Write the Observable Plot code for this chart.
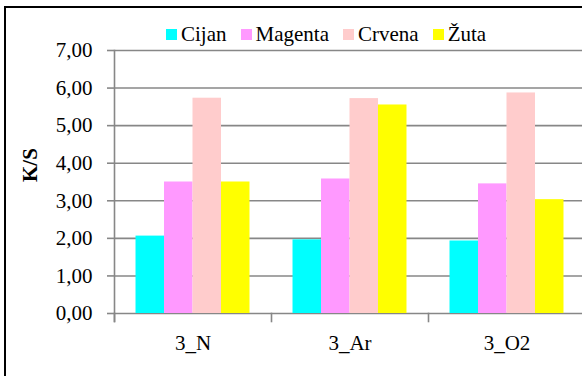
<!DOCTYPE html>
<html>
<head>
<meta charset="utf-8">
<script src="https://cdn.jsdelivr.net/npm/d3@7"></script>
<script src="https://cdn.jsdelivr.net/npm/@observablehq/plot@0.6"></script>
<style>
  html, body { margin: 0; padding: 0; background: white; overflow: hidden; }
  #wrap { position: relative; width: 582px; height: 376px; overflow: hidden; font-family: "Liberation Serif", Tinos, "Nimbus Roman", "DejaVu Serif", serif; }
  #border { position: absolute; left: 4px; top: 6px; width: 640px; height: 440px; border: 2px solid #000; box-sizing: border-box; }
  #chart { position: absolute; left: 0; top: 0; }
  #chart svg, #chart svg text { font-family: "Liberation Serif", Tinos, "Nimbus Roman", "DejaVu Serif", serif !important; }
  #legend { position: absolute; left: 166px; top: 20px; display: flex; align-items: center; font-size: 21px; line-height: 28px; color: #000; white-space: nowrap; }
  #legend .item { display: flex; align-items: center; margin-right: 14px; }
  #legend .sw { width: 11px; height: 11px; margin-right: 4px; }
</style>
</head>
<body>
<div id="wrap">
  <div id="border"></div>
  <div id="chart"></div>
  <div id="legend"></div>
</div>
<script>
const categories = ["3_N", "3_Ar", "3_O2"];
const series = ["Cijan", "Magenta", "Crvena", "Žuta"];
const colors = ["#00FFFF", "#FF99FF", "#FFCCCC", "#FFFF00"];
const cijan   = [2.06, 1.96, 1.93];
const magenta = [3.50, 3.58, 3.45];
const crvena  = [5.73, 5.72, 5.87];
const zuta    = [3.50, 5.55, 3.03];
const yTicks = [0, 1, 2, 3, 4, 5, 6, 7];

const valuesBySeries = [cijan, magenta, crvena, zuta];
const data = [];
categories.forEach((c, i) => {
  series.forEach((s, j) => data.push({category: c, series: s, value: valuesBySeries[j][i]}));
});

const W = 582, H = 376, mTop = 50, mBottom = 63, mLeft = 114, mRight = -3;
const innerH = H - mTop - mBottom;
const grey = "#878787";
const fmt = d => d.toFixed(2).replace(".", ",");

const chart = Plot.plot({
  width: W,
  height: H,
  marginTop: mTop,
  marginBottom: mBottom,
  marginLeft: mLeft,
  marginRight: mRight,
  style: {fontSize: "21px", background: "transparent", color: "black"},
  fx: {domain: categories, padding: 0, label: null},
  x: {domain: series, paddingInner: 0, paddingOuter: 0.755, axis: null, round: false},
  y: {domain: [0, 7], label: null},
  color: {domain: series, range: colors},
  marks: [
    Plot.gridY(yTicks, {stroke: grey, strokeOpacity: 1, strokeWidth: 1.6}),
    Plot.barY(data, {fx: "category", x: "series", y: "value", fill: "series"}),
    Plot.frame({anchor: "left", facetAnchor: "left", stroke: grey, strokeWidth: 1.6, insetBottom: -8}),
    Plot.frame({anchor: "left", stroke: grey, strokeWidth: 1.6, insetTop: innerH, insetBottom: -8}),
    Plot.axisY(yTicks, {tickSize: 7, tickPadding: 15, stroke: grey, strokeWidth: 1.6, fill: "black", fontSize: 21, tickFormat: fmt, label: null}),
    Plot.axisFx({anchor: "bottom", tickSize: 0, tickPadding: 22, fontSize: 21, label: null, fill: "black"}),
    Plot.text(["K/S"], {text: d => d, frameAnchor: "left", facetAnchor: "left", dx: -84, rotate: -90, fontWeight: "bold", fontSize: 21, fill: "black"})
  ]
});
document.getElementById("chart").appendChild(chart);

const legend = document.getElementById("legend");
series.forEach((s, i) => {
  const item = document.createElement("div");
  item.className = "item";
  const sw = document.createElement("div");
  sw.className = "sw";
  sw.style.background = colors[i];
  const t = document.createElement("span");
  t.textContent = s;
  item.appendChild(sw);
  item.appendChild(t);
  legend.appendChild(item);
});
</script>
</body>
</html>
